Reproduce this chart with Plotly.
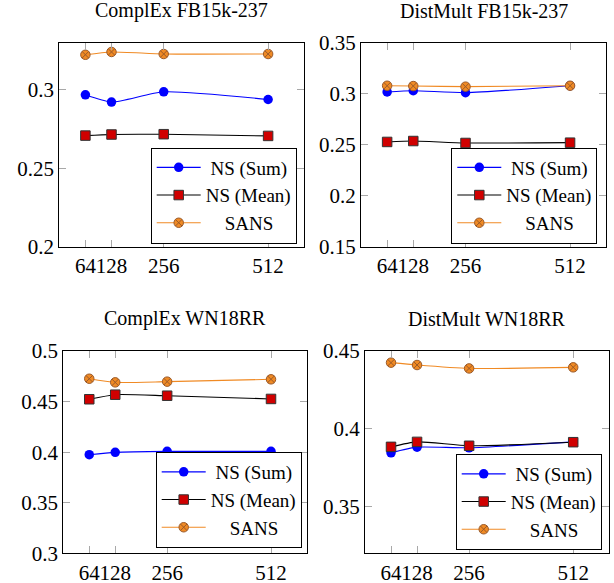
import plotly.graph_objects as go

# ---- data ----
dims = [64, 128, 256, 512]
titles = ["ComplEx FB15k-237", "DistMult FB15k-237", "ComplEx WN18RR", "DistMult WN18RR"]
series_names = ["NS (Sum)", "NS (Mean)", "SANS"]

ns_sum = [
    [0.2968, 0.2922, 0.2987, 0.2938],
    [0.3017, 0.3029, 0.3010, 0.3078],
    [0.3975, 0.3998, 0.4008, 0.4008],
    [0.3846, 0.3882, 0.3878, 0.3916],
]
ns_mean = [
    [0.2708, 0.2715, 0.2717, 0.2706],
    [0.2527, 0.2536, 0.2517, 0.2520],
    [0.4523, 0.4568, 0.4558, 0.4526],
    [0.3884, 0.3916, 0.3891, 0.3914],
]
sans = [
    [0.3223, 0.3241, 0.3228, 0.3228],
    [0.3078, 0.3075, 0.3069, 0.3078],
    [0.4726, 0.4690, 0.4697, 0.4720],
    [0.4425, 0.4410, 0.4388, 0.4395],
]
y_ranges = [[0.2, 0.33], [0.15, 0.35], [0.3, 0.5], [0.32, 0.45]]
y_ticks = [[0.2, 0.25, 0.3], [0.15, 0.2, 0.25, 0.3, 0.35],
           [0.3, 0.35, 0.4, 0.45, 0.5], [0.35, 0.4, 0.45]]
x_ticks = [64, 128, 256, 512]
x_range = [0, 600]

W, H = 614, 583
# panel boxes in window pixels: (left, right, top, bottom)
boxes = [(59.3, 304.0, 42.7, 246.7), (361.0, 606.0, 42.7, 246.7),
         (63.3, 306.7, 351.0, 553.3), (365.0, 609.0, 351.0, 553.3)]
legend_pos = [(296.7, 243.5), (597.3, 243.5), (301.7, 548.0), (601.7, 550.0)]
title_base = [19.3, 19.3, 327.0, 327.0]
# centre the legend labels in their column, as in the reference
pad = {"NS (Sum)": 1, "NS (Mean)": 0, "SANS": 4}


def px_x(v):
    return v / W


def px_y(v):
    return 1 - v / H


FONT = "Liberation Serif"
BLUE = "#0000ff"
RED = "#d00000"
ORANGE = "#f08a24"
ORANGE_DARK = "#9a5a2a"
TICKGREY = "#a8a8a8"

fig = go.Figure()
for i in range(4):
    sfx = "" if i == 0 else str(i + 1)
    leg = "legend" if i == 0 else f"legend{i + 1}"
    common = dict(x=dims, xaxis="x" + sfx, yaxis="y" + sfx, legend=leg,
                  mode="lines+markers", line_shape="spline")
    lbl = {n: "\u00a0" * pad[n] + n for n in series_names}
    fig.add_trace(go.Scatter(y=ns_sum[i], name=lbl["NS (Sum)"],
                             line=dict(color=BLUE, width=1.1, smoothing=0.6),
                             marker=dict(symbol="circle", size=9.5, color=BLUE,
                                         line=dict(width=0)), **common))
    fig.add_trace(go.Scatter(y=ns_mean[i], name=lbl["NS (Mean)"],
                             line=dict(color="black", width=1.1, smoothing=0.6),
                             marker=dict(symbol="square", size=9.5, color=RED,
                                         line=dict(width=1, color="#333333")), **common))
    fig.add_trace(go.Scatter(y=sans[i], name=lbl["SANS"],
                             line=dict(color=ORANGE, width=1.1, smoothing=0.6),
                             marker=dict(symbol="circle-x", size=9.5, color=ORANGE,
                                         line=dict(width=1, color=ORANGE_DARK)), **common))

layout = dict(template="none", width=W, height=H,
              margin=dict(l=0, r=0, t=0, b=0, pad=0, autoexpand=False),
              paper_bgcolor="white", plot_bgcolor="white",
              font=dict(family=FONT, size=20, color="black"),
              showlegend=True, annotations=[])
for i in range(4):
    l, r, t, b = boxes[i]
    sfx = "" if i == 0 else str(i + 1)
    axcommon = dict(showline=True, linecolor="black", linewidth=1, mirror="allticks",
                    ticks="inside", ticklen=7, tickcolor=TICKGREY, tickwidth=1,
                    showgrid=False, zeroline=False, tickangle=0, automargin=False,
                    tickfont=dict(family=FONT, size=21, color="black"))
    layout["xaxis" + sfx] = dict(domain=[px_x(l), px_x(r)], range=x_range,
                                 tickvals=x_ticks, ticktext=[str(v) for v in x_ticks],
                                 anchor="y" + sfx, **axcommon)
    layout["yaxis" + sfx] = dict(domain=[px_y(b), px_y(t)], range=y_ranges[i],
                                 tickvals=y_ticks[i],
                                 ticktext=[f"{v:g}" for v in y_ticks[i]],
                                 anchor="x" + sfx, **axcommon)
    lx, ly = legend_pos[i]
    legkey = "legend" if i == 0 else f"legend{i + 1}"
    layout[legkey] = dict(x=px_x(lx), y=px_y(ly), xanchor="right", yanchor="bottom",
                          bgcolor="white", bordercolor="black", borderwidth=1,
                          font=dict(family=FONT, size=19, color="black"),
                          tracegroupgap=0, itemwidth=44)
    layout["annotations"].append(dict(text=titles[i], x=px_x((l + r) / 2),
                                      y=px_y(title_base[i] + 5),
                                      xref="paper", yref="paper",
                                      xanchor="center", yanchor="bottom",
                                      showarrow=False,
                                      font=dict(family=FONT, size=20, color="black")))

fig.update_layout(**layout)
fig.write_html("out.html", config={"displayModeBar": False},
               post_script="document.body.style.margin='0';"
                           "document.documentElement.style.overflow='hidden';")
